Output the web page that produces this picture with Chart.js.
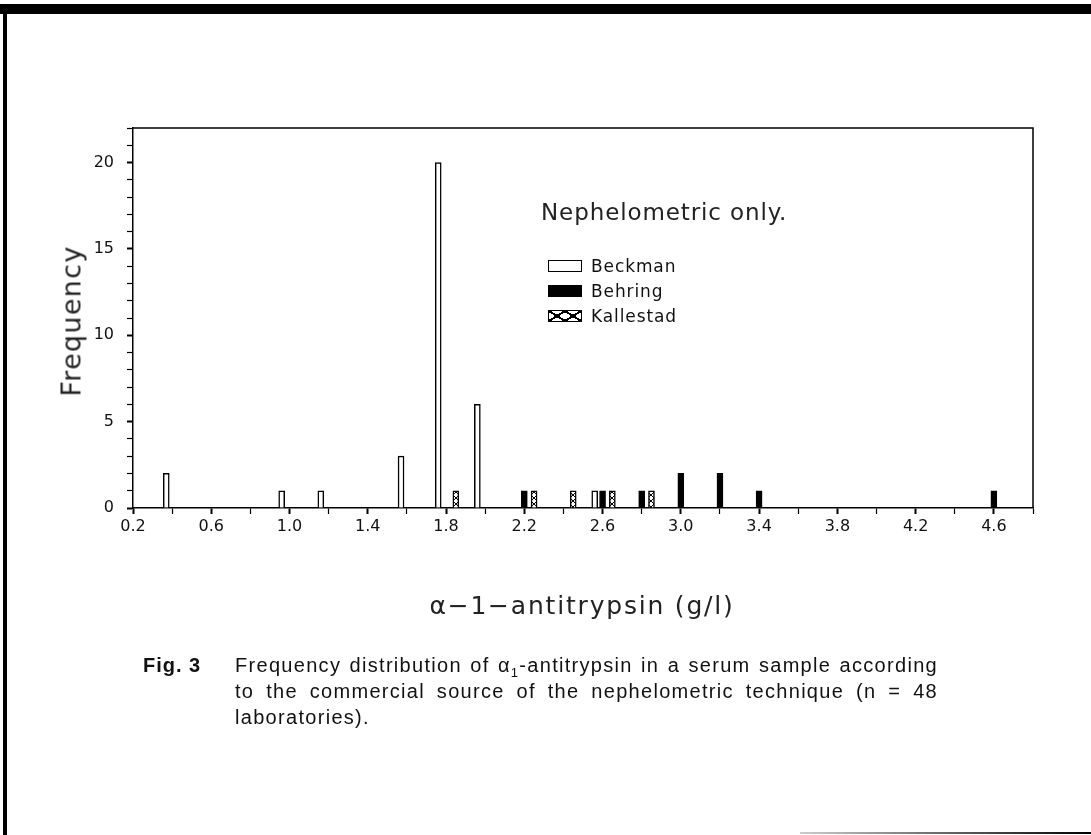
<!DOCTYPE html>
<html>
<head>
<meta charset="utf-8">
<script src="https://cdn.jsdelivr.net/npm/chart.js@4.4.1/dist/chart.umd.min.js"></script>
<style>
  html, body { margin:0; padding:0; background:#fff; }
  body { width:1091px; height:835px; position:relative; overflow:hidden; font-family:"DejaVu Sans", sans-serif; color:#111; }
  #c { position:absolute; left:0; top:0; }
  .frameTop { position:absolute; left:0; top:4px; width:1091px; height:10px; background:#000; }
  .frameLeft { position:absolute; left:3px; top:4px; width:4px; height:831px; background:#000; }
  .frameBottom { position:absolute; left:800px; top:832px; width:291px; height:2px; background:linear-gradient(to right,#ccc,#000); }
  .abs { position:absolute; white-space:nowrap; }
  #ytitle { left:71px; top:321px; transform:translate(-50%,-50%) rotate(-90deg); font-size:27px; letter-spacing:1.3px; color:#222; }
  #xtitle { left:582px; top:605px; transform:translate(-50%,-50%); font-size:25px; letter-spacing:1.8px; color:#222; }
  #legTitle { left:541px; top:212px; transform:translateY(-50%); font-size:23px; letter-spacing:0.9px; color:#222; }
  .legItem { position:absolute; left:548px; font-size:17px; letter-spacing:0.9px; display:flex; align-items:center; white-space:nowrap; }
  .sw { width:32px; height:10px; border:1.5px solid #000; margin-right:9px; box-sizing:content-box; }
  .sw.beck { background:#fff; }
  .sw.behr { background:#000; }
  .sw.kall { background:
      linear-gradient(to top right, transparent 44%, #000 44%, #000 56%, transparent 56%),
      linear-gradient(to bottom right, transparent 44%, #000 44%, #000 56%, transparent 56%), #fff;
      background-size:16px 10px; }
  #caption { position:absolute; left:143px; top:652px; font-family:"Liberation Sans", Arial, sans-serif; font-size:20px; line-height:26px; color:#111; }
  #fig { position:absolute; left:0; top:0; font-weight:bold; white-space:nowrap; letter-spacing:1px; }
  #captext { position:absolute; left:92px; top:0; width:703px; }
  .ln { white-space:nowrap; letter-spacing:1.3px; }
  .ln.j { text-align:justify; text-align-last:justify; white-space:normal; }
  .ln sub { font-size:13px; line-height:0; }
</style>
</head>
<body>
<div class="frameTop"></div>
<div class="frameLeft"></div>
<div class="frameBottom"></div>
<canvas id="c" width="1091" height="835"></canvas>
<div id="ytitle" class="abs">Frequency</div>
<div id="xtitle" class="abs">α−1−antitrypsin (g/l)</div>
<div id="legTitle" class="abs">Nephelometric only.</div>
<div id="legend"></div>
<div id="caption">
  <div id="fig">Fig. 3</div>
  <div id="captext">
    <div class="ln j">Frequency distribution of α<sub>1</sub>-antitrypsin in a serum sample according</div>
    <div class="ln j">to the commercial source of the nephelometric technique (n = 48</div>
    <div class="ln">laboratories).</div>
  </div>
</div>
<script>
// ---- data ----
const seriesNames = ['Beckman', 'Behring', 'Kallestad'];
const beckmanX = [0.37, 0.96, 1.16, 1.57, 1.76, 1.96, 2.56];
const beckmanY = [2, 1, 1, 3, 20, 6, 1];
const behringX = [2.2, 2.6, 2.8, 3.0, 3.2, 3.4, 4.6];
const behringY = [1, 1, 1, 2, 2, 1, 1];
const kallestadX = [1.85, 2.25, 2.45, 2.65, 2.85];
const kallestadY = [1, 1, 1, 1, 1];
const xTickLabels = ['0.2','0.6','1.0','1.4','1.8','2.2','2.6','3.0','3.4','3.8','4.2','4.6'];
const yTickLabels = ['0','5','10','15','20'];

// legend (HTML, real text)
const legCls = ['beck','behr','kall'];
const legTops = [266, 291, 316];
const legend = document.getElementById('legend');
seriesNames.forEach((n,i)=>{
  const d = document.createElement('div');
  d.className = 'legItem';
  d.style.top = (legTops[i]-10) + 'px';
  d.innerHTML = '<span class="sw '+legCls[i]+'"></span><span>'+n+'</span>';
  legend.appendChild(d);
});

// crosshatch pattern for Kallestad
const pc = document.createElement('canvas');
pc.width = 6; pc.height = 6;
const p = pc.getContext('2d');
p.fillStyle = '#fff'; p.fillRect(0,0,6,6);
p.strokeStyle = '#000'; p.lineWidth = 1;
p.beginPath(); p.moveTo(0,0); p.lineTo(6,6); p.moveTo(6,0); p.lineTo(0,6); p.stroke();
const ctx = document.getElementById('c').getContext('2d');
const hatch = ctx.createPattern(pc, 'repeat');

const toPts = (xs, ys) => xs.map((x,i)=>({x:x, y:ys[i]}));

const boxPlugin = {
  id:'box',
  afterDraw(chart){
    const a = chart.chartArea, c = chart.ctx;
    c.save();
    c.strokeStyle = '#000'; c.lineWidth = 1.5;
    c.beginPath();
    c.moveTo(a.left, a.top); c.lineTo(a.right, a.top); c.lineTo(a.right, a.bottom);
    c.stroke();
    c.restore();
  }
};

const fontTick = { family:'"DejaVu Sans", sans-serif', size:16 };

new Chart(ctx, {
  type:'bar',
  data:{
    datasets:[
      { label:seriesNames[0], data:toPts(beckmanX, beckmanY), backgroundColor:'#fff', borderColor:'#000', borderWidth:1.5 },
      { label:seriesNames[1], data:toPts(behringX, behringY), backgroundColor:'#000', borderColor:'#000', borderWidth:1 },
      { label:seriesNames[2], data:toPts(kallestadX, kallestadY), backgroundColor:hatch, borderColor:'#000', borderWidth:1.5 }
    ]
  },
  options:{
    responsive:false,
    animation:false,
    devicePixelRatio:1,
    layout:{ padding:{ left:0, top:128, right:58, bottom:0 } },
    datasets:{ bar:{ grouped:false, barThickness:6 } },
    plugins:{ legend:{ display:false }, tooltip:{ enabled:false } },
    scales:{
      x:{
        type:'linear', min:0.2, max:4.8, offset:false,
        afterFit(s){ s.height = 327; },
        ticks:{
          stepSize:0.2, autoSkip:false, maxRotation:0, color:'#111', font:fontTick, padding:3,
          callback(v){ const t = v.toFixed(1); return xTickLabels.includes(t) ? t : ''; }
        },
        grid:{ drawOnChartArea:false, drawTicks:true, tickLength:6, color:'#000', offset:false,
          tickWidth(c){ const t = c.tick ? c.tick.value.toFixed(1) : ''; return xTickLabels.includes(t) ? 2 : 1.2; } },
        border:{ display:true, color:'#000', width:1.5 }
      },
      y:{
        min:0, max:22,
        afterFit(s){ s.width = 133; },
        ticks:{
          stepSize:1, autoSkip:false, color:'#111', font:fontTick, padding:13,
          callback(v){ const t = String(v); return yTickLabels.includes(t) ? t : ''; }
        },
        grid:{ drawOnChartArea:false, drawTicks:true, tickLength:6, color:'#000',
          tickWidth(c){ const t = c.tick ? String(c.tick.value) : ''; return yTickLabels.includes(t) ? 2 : 1.2; } },
        border:{ display:true, color:'#000', width:1.5 }
      }
    }
  },
  plugins:[boxPlugin]
});
</script>
</body>
</html>
